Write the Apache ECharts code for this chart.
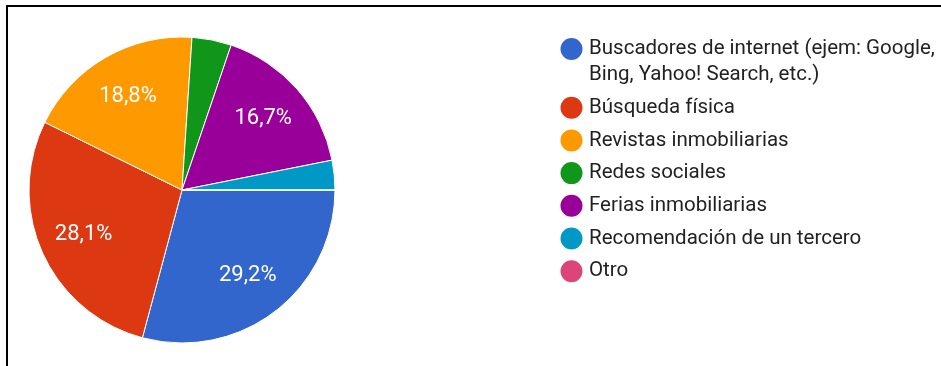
<!DOCTYPE html>
<html>
<head>
<meta charset="utf-8">
<script src="https://cdn.jsdelivr.net/npm/echarts@6/dist/echarts.min.js"></script>
<style>
  html, body { margin: 0; padding: 0; background: #fff; }
  #chart { width: 941px; height: 366px; }
</style>
</head>
<body>
<div id="chart"></div>
<script>
// Survey answers: how respondents search for property
const categories = [
  'Buscadores de internet (ejem: Google, Bing, Yahoo! Search, etc.)',
  'Búsqueda física',
  'Revistas inmobiliarias',
  'Redes sociales',
  'Ferias inmobiliarias',
  'Recomendación de un tercero',
  'Otro'
];
const responses = [28, 27, 18, 4, 16, 3, 0];
const palette = ['#3366cc', '#dc3912', '#ff9900', '#109618', '#990099', '#0099c6', '#dd4477'];

const total = responses.reduce((a, b) => a + b, 0);
const share = v => (v / total * 100);
const pctText = v => share(v).toFixed(1).replace('.', ',') + '%';

const pieData = categories.map((name, i) => ({
  name,
  value: responses[i],
  itemStyle: { color: palette[i] }
}));

// Long legend entries wrap after "Google,"; a blank leading line keeps the
// first text line level with the marker, which sits at the block's middle.
const legendText = name => name.indexOf('Google, ') >= 0
  ? ' \n' + name.replace('Google, ', 'Google,\n')
  : name;

const chart = echarts.init(document.getElementById('chart'), null, { renderer: 'canvas' });

chart.setOption({
  animation: false,
  backgroundColor: '#fff',
  color: palette,
  legend: {
    orient: 'vertical',
    left: 558.5,
    top: 10,
    padding: 0,
    itemGap: 6.7,
    itemWidth: 25,
    itemHeight: 24,
    icon: 'circle',
    selectedMode: false,
    formatter: legendText,
    textStyle: {
      fontFamily: 'Roboto',
      fontSize: 20.5,
      lineHeight: 26,
      color: '#222'
    },
    data: categories
  },
  graphic: [
    { type: 'rect', shape: { x: 6, y: 5, width: 935, height: 2 }, style: { fill: '#000' }, silent: true },
    { type: 'rect', shape: { x: 6, y: 5, width: 2, height: 361 }, style: { fill: '#000' }, silent: true }
  ],
  series: [
    {
      type: 'pie',
      center: [182, 190],
      radius: [0, 153],
      startAngle: 0,
      clockwise: true,
      avoidLabelOverlap: false,
      label: { show: false },
      labelLine: { show: false },
      emphasis: { disabled: true },
      itemStyle: { borderColor: '#fff', borderWidth: 1 },
      data: pieData
    },
    {
      // transparent ring used only to place percentage labels further out
      type: 'pie',
      center: [182, 190],
      radius: [57, 153],
      startAngle: 0,
      clockwise: true,
      silent: true,
      avoidLabelOverlap: false,
      emphasis: { disabled: true },
      itemStyle: { color: 'rgba(0,0,0,0)', borderWidth: 0 },
      labelLine: { show: false },
      label: {
        show: true,
        position: 'inside',
        fontFamily: 'Roboto',
        fontSize: 22,
        color: '#fff',
        formatter: p => share(p.value) >= 5 ? pctText(p.value) : ''
      },
      data: categories.map((name, i) => ({ name, value: responses[i] }))
    }
  ]
});
</script>
</body>
</html>
